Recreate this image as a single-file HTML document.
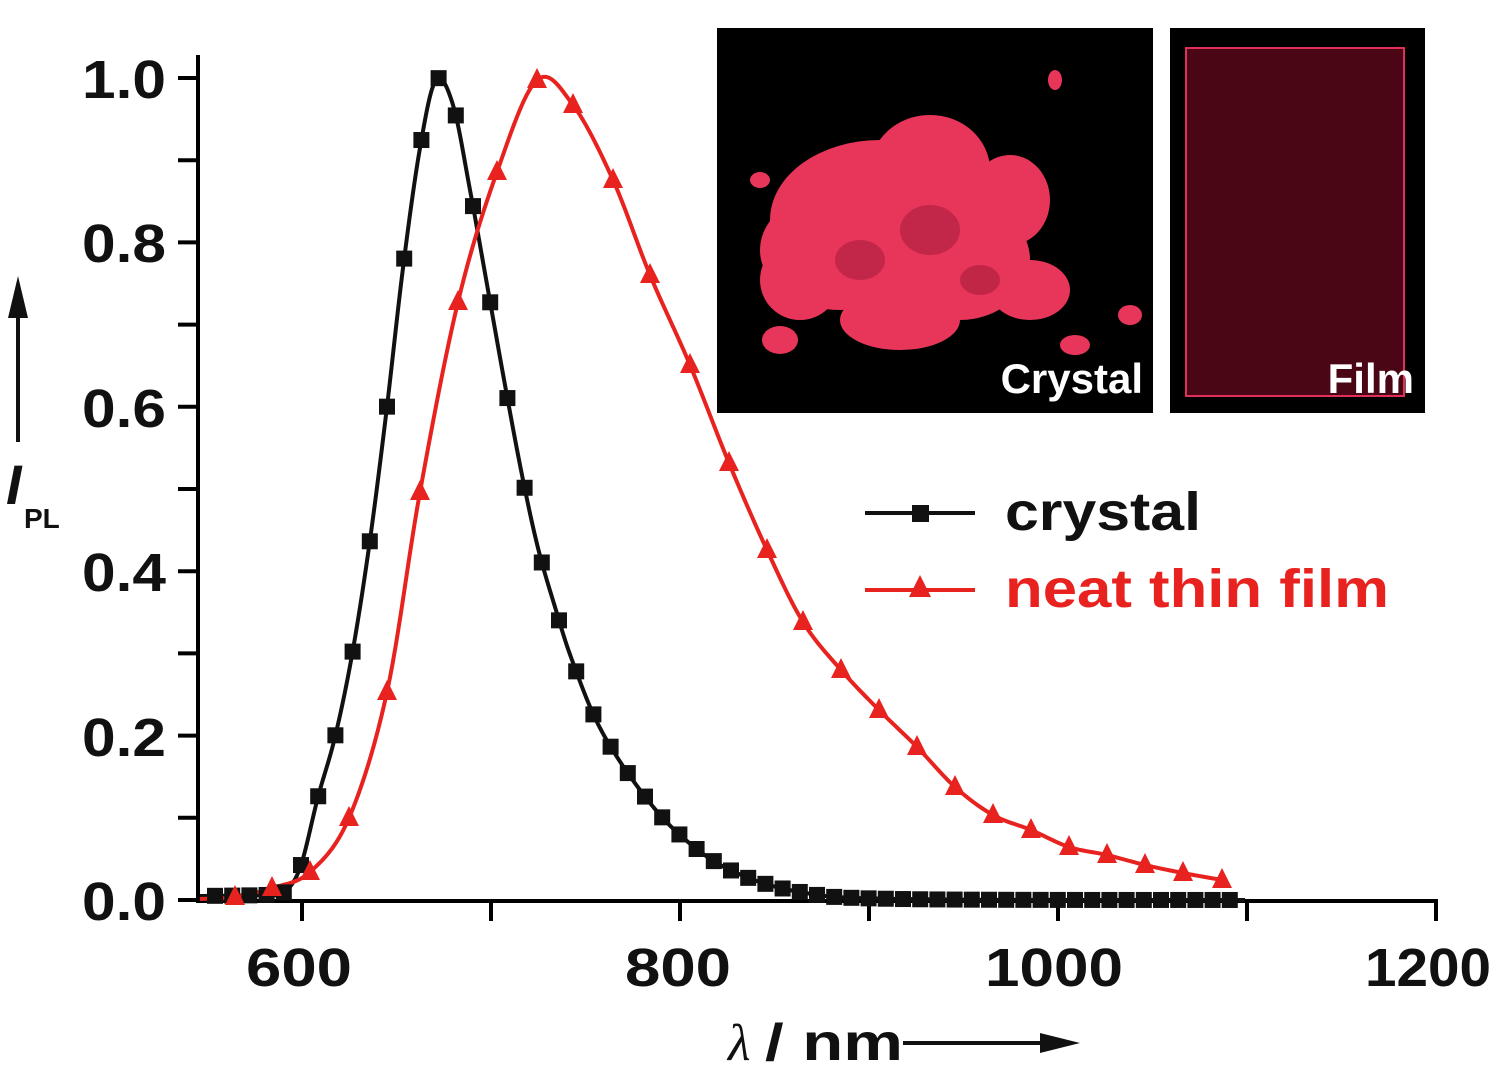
<!DOCTYPE html>
<html><head><meta charset="utf-8"><style>
html,body{margin:0;padding:0;background:#fff;}
svg{display:block;}
text{font-family:"Liberation Sans",Arial,sans-serif;font-weight:bold;}
</style></head><body>
<svg id="s" width="1504" height="1071" viewBox="0 0 1504 1071" xmlns="http://www.w3.org/2000/svg">
<rect width="1504" height="1071" fill="#fff"/>
<rect x="717" y="28" width="436" height="385" fill="#000"/>
<g fill="#e8365a">
<ellipse cx="880" cy="220" rx="110" ry="80"/>
<ellipse cx="840" cy="250" rx="80" ry="60"/>
<ellipse cx="930" cy="170" rx="60" ry="55"/>
<ellipse cx="960" cy="260" rx="70" ry="60"/>
<ellipse cx="800" cy="280" rx="40" ry="40"/>
<ellipse cx="900" cy="320" rx="60" ry="30"/>
<ellipse cx="1010" cy="200" rx="40" ry="45"/>
<ellipse cx="1030" cy="290" rx="40" ry="30"/>
<ellipse cx="780" cy="340" rx="18" ry="14"/>
<ellipse cx="1055" cy="80" rx="7" ry="10"/>
<ellipse cx="1130" cy="315" rx="12" ry="10"/>
<ellipse cx="1075" cy="345" rx="15" ry="10"/>
<ellipse cx="760" cy="180" rx="10" ry="8"/>
</g>
<g fill="#a81c3c" opacity="0.6">
<ellipse cx="930" cy="230" rx="30" ry="25"/>
<ellipse cx="860" cy="260" rx="25" ry="20"/>
<ellipse cx="980" cy="280" rx="20" ry="15"/>
</g>
<text x="1143" y="393" font-size="42" fill="#fff" text-anchor="end" style="font-weight:600">Crystal</text>
<rect x="1170" y="28" width="255" height="385" fill="#000"/>
<rect x="1186" y="48" width="218" height="348" fill="#4a0614" stroke="#e0305a" stroke-width="2"/>
<text x="1414" y="393" font-size="42" fill="#fff" text-anchor="end" style="font-weight:600">Film</text>
<g stroke="#000" stroke-width="4" fill="none">
<line x1="198" y1="55" x2="198" y2="903"/>
<line x1="196" y1="901" x2="1438" y2="901"/>
</g>
<g id="ticks" stroke="#000" stroke-width="4"></g>
<g font-size="54" fill="#111">
<text x="82" y="98" textLength="84" lengthAdjust="spacingAndGlyphs">1.0</text>
<text x="82" y="262" textLength="84" lengthAdjust="spacingAndGlyphs">0.8</text>
<text x="82" y="427" textLength="84" lengthAdjust="spacingAndGlyphs">0.6</text>
<text x="82" y="591" textLength="84" lengthAdjust="spacingAndGlyphs">0.4</text>
<text x="82" y="756" textLength="84" lengthAdjust="spacingAndGlyphs">0.2</text>
<text x="82" y="920" textLength="84" lengthAdjust="spacingAndGlyphs">0.0</text>
</g>
<g font-size="54" fill="#111">
<text x="246" y="986" textLength="106" lengthAdjust="spacingAndGlyphs">600</text>
<text x="625" y="986" textLength="106" lengthAdjust="spacingAndGlyphs">800</text>
<text x="985" y="986" textLength="138" lengthAdjust="spacingAndGlyphs">1000</text>
<text x="1365" y="986" textLength="126" lengthAdjust="spacingAndGlyphs">1200</text>
</g>
<line x1="18" y1="442" x2="18" y2="300" stroke="#111" stroke-width="4"/>
<polygon points="18,276 8,318 28,318" fill="#111"/>
<text x="6" y="504" font-size="56" font-style="italic" fill="#111">I</text>
<text x="24" y="528" font-size="28" fill="#111">PL</text>
<text x="728" y="1060" font-size="52" fill="#111" font-style="italic" style="font-family:'Liberation Serif',serif;font-weight:normal">λ</text>
<text x="765" y="1060" font-size="52" fill="#111" textLength="138" lengthAdjust="spacingAndGlyphs">/ nm</text>
<line x1="903" y1="1043" x2="1050" y2="1043" stroke="#111" stroke-width="4"/>
<polygon points="1080,1043 1040,1033 1040,1053" fill="#111"/>
<g id="curves"></g>
<line x1="865" y1="513" x2="975" y2="513" stroke="#111" stroke-width="4"/>
<rect x="912" y="505" width="17" height="17" fill="#111"/>
<text x="1005" y="530" font-size="54" fill="#111" textLength="196" lengthAdjust="spacingAndGlyphs">crystal</text>
<line x1="865" y1="590" x2="975" y2="590" stroke="#e8231f" stroke-width="4"/>
<polygon points="920,575 909,597 931,597" fill="#e8231f"/>
<text x="1005" y="607" font-size="54" fill="#e8231f" textLength="384" lengthAdjust="spacingAndGlyphs">neat thin film</text>
</svg>
<script>
var NS="http://www.w3.org/2000/svg";
function el(t,a,p){var e=document.createElementNS(NS,t);for(var k in a)e.setAttribute(k,a[k]);p.appendChild(e);return e;}
var tk=document.getElementById('ticks');
for(var i=0;i<=10;i++){var y=900-i*82.2;el('line',{x1:178,y1:y,x2:198,y2:y},tk);}
for(var i=0;i<7;i++){var x=1436-i*189;el('line',{x1:x,y1:901,x2:x,y2:921},tk);}
function cr(pts,n){var out=[];for(var i=0;i<pts.length-1;i++){var p0=pts[Math.max(0,i-1)],p1=pts[i],p2=pts[i+1],p3=pts[Math.min(pts.length-1,i+2)];
for(var j=0;j<n;j++){var t=j/n,t2=t*t,t3=t2*t;var f=function(a,b,c,d){return 0.5*((2*b)+(-a+c)*t+(2*a-5*b+4*c-d)*t2+(-a+3*b-3*c+d)*t3);};
out.push([f(p0[0],p1[0],p2[0],p3[0]),f(p0[1],p1[1],p2[1],p3[1])]);}}out.push(pts[pts.length-1]);return out;}
function yAt(c,x){for(var i=0;i<c.length-1;i++){if(c[i][0]<=x&&c[i+1][0]>=x){var t=(x-c[i][0])/((c[i+1][0]-c[i][0])||1);return c[i][1]+t*(c[i+1][1]-c[i][1]);}}return c[c.length-1][1];}
var g=document.getElementById('curves');
var cp=[[200,896],[265,895],[283,893],[300,868],[318,797],[335,737],[352,655],[369,547],[386,415],[403,268],[420,148],[436,80],[453,105],[470,190],[488,290],[505,385],[522,475],[538,548],[555,607],[572,660],[600,728],[640,790],[680,835],[730,870],[800,892],[900,899],[1245,900]];
var fp=[[200,899],[235,897],[272,888],[310,872],[349,818],[387,692],[420,492],[458,302],[497,172],[537,80],[573,105],[613,180],[650,275],[690,365],[729,463],[767,550],[803,622],[841,670],[879,710],[917,747],[955,787],[993,815],[1031,830],[1069,847],[1107,855],[1145,865],[1183,873],[1222,880]];
var c=cr(cp,12),f=cr(fp,12);
el('polyline',{points:c.map(p=>p.join(',')).join(' '),fill:'none',stroke:'#111','stroke-width':4},g);
el('polyline',{points:f.map(p=>p.join(',')).join(' '),fill:'none',stroke:'#e8231f','stroke-width':4},g);
for(var x=215;x<=1245;x+=17.2){var y=yAt(c,x);el('rect',{x:x-8,y:y-8,width:16,height:16,fill:'#111'},g);}
for(var i=1;i<fp.length;i++){var p=fp[i];el('polygon',{points:(p[0])+','+(p[1]-12)+' '+(p[0]-10)+','+(p[1]+8)+' '+(p[0]+10)+','+(p[1]+8),fill:'#e8231f'},g);}
</script>
</body></html>
